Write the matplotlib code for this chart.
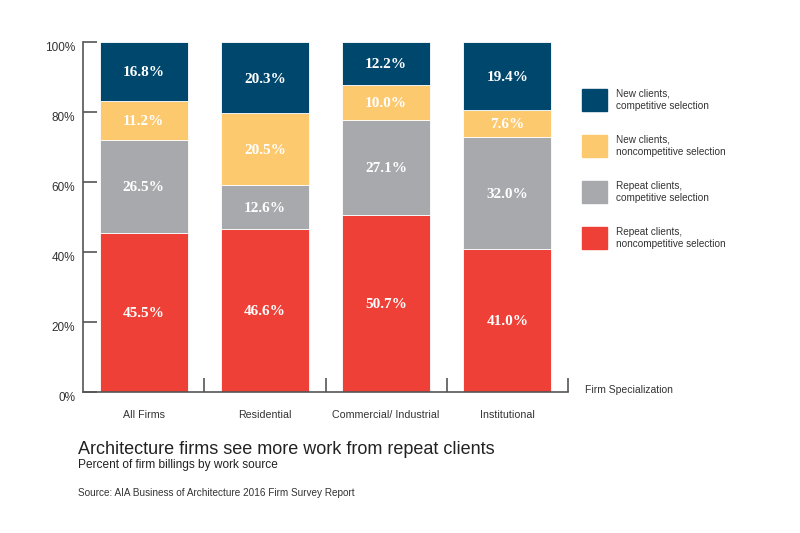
import matplotlib
matplotlib.use('Agg')
from matplotlib import pyplot as plt
from matplotlib.patches import Rectangle
from matplotlib.transforms import ScaledTranslation
import numpy as np

firms = ['All Firms', 'Residential', 'Commercial/ Industrial', 'Institutional']

# bottom to top
repeat_noncomp = [45.5, 46.6, 50.7, 41.0]
repeat_comp    = [26.5, 12.6, 27.1, 32.0]
new_noncomp    = [11.2, 20.5, 10.0, 7.6]
new_comp       = [16.8, 20.3, 12.2, 19.4]

series = [repeat_noncomp, repeat_comp, new_noncomp, new_comp]
colors = ['#EE4037', '#A7A9AC', '#FDC96F', '#00476D']
labels = ['Repeat clients,\nnoncompetitive selection',
          'Repeat clients,\ncompetitive selection',
          'New clients,\nnoncompetitive selection',
          'New clients,\ncompetitive selection']

sans = 'Liberation Sans'
serif = 'Liberation Serif'
txt = '#333333'

fig = plt.figure(figsize=(8, 5.33), dpi=100)
ax = fig.add_axes([83/800, 1-392/533, 485/800, 350/533])

x = np.arange(len(firms))
bottom = np.zeros(len(firms))
for vals, c in zip(series, colors):
    bars = ax.bar(x, vals, width=0.725, bottom=bottom, color=c,
                  edgecolor='white', linewidth=0.6)
    for xi, b, v in zip(x, bottom, vals):
        ax.text(xi, b + v/2, '%.1f%%' % v, ha='center', va='center_baseline',
                color='white', fontsize=11, fontweight='bold', family=serif)
    bottom += vals

ax.set_xlim(-0.5, 3.5)
ax.set_ylim(0, 100)
for s in ['top', 'right']:
    ax.spines[s].set_visible(False)
for s in ['left', 'bottom']:
    ax.spines[s].set_color('#555555')
    ax.spines[s].set_linewidth(1.2)

ax.set_yticks(np.arange(0, 101, 20))
ax.set_yticklabels(['%d%%' % v for v in range(0, 101, 20)])
ax.tick_params(axis='y', direction='in', length=10, width=1.2, color='#555555',
               labelsize=8.5, labelcolor=txt, pad=5.5)
for lab in ax.get_yticklabels():
    lab.set_family(sans)
    lab.set_transform(lab.get_transform() + ScaledTranslation(0, -3/72, fig.dpi_scale_trans))

ax.set_xticks(x)
ax.set_xticklabels(firms, family=sans)
ax.set_xticks(x + 0.5, minor=True)
ax.tick_params(axis='x', which='major', length=0, labelsize=7.7, labelcolor=txt, pad=13)
ax.tick_params(axis='x', which='minor', direction='in', length=10, width=1.2, color='#555555')

ax.text(1.035, 0.005, 'Firm Specialization', transform=ax.transAxes, ha='left',
        va='center', fontsize=7.5, color=txt, family=sans)

# legend
for i, (lab, c) in enumerate(zip(labels[::-1], colors[::-1])):
    ytop = 89 + i * 46
    fig.patches.append(Rectangle((582/800, 1-(ytop+22)/533), 25/800, 22/533,
                                 transform=fig.transFigure, color=c))
    fig.text(616/800, 1-(ytop+11)/533, lab, ha='left', va='center',
             fontsize=7.2, color=txt, family=sans, linespacing=1.35)

fig.text(78/800, 1-449/533, 'Architecture firms see more work from repeat clients',
         ha='left', va='center', fontsize=13, color='#222222', family=sans)
fig.text(78/800, 1-465/533, 'Percent of firm billings by work source',
         ha='left', va='center', fontsize=8.6, color='#222222', family=sans)
fig.text(78/800, 1-493/533, 'Source: AIA Business of Architecture 2016 Firm Survey Report',
         ha='left', va='center', fontsize=7.2, color=txt, family=sans)

fig.savefig('out.png', dpi=100)
